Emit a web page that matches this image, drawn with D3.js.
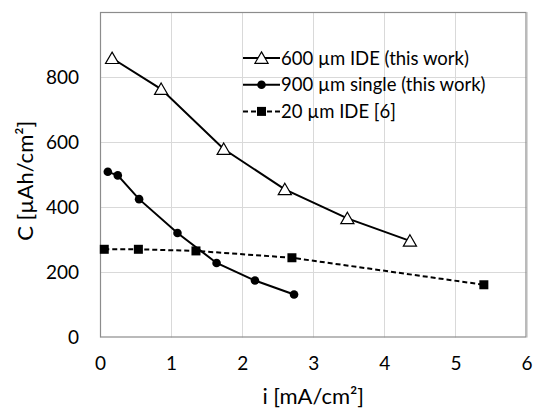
<!DOCTYPE html>
<html>
<head>
<meta charset="utf-8">
<script src="https://cdn.jsdelivr.net/npm/d3@7"></script>
<style>
  html, body { margin: 0; padding: 0; background: #fff; }
  svg { display: block; font-family: Lato, "Noto Sans", sans-serif; }
</style>
</head>
<body>
<svg id="chart" width="533" height="410"></svg>
<script>
// Capacity vs. current density for three electrode designs
const ide600X = [0.17, 0.86, 1.74, 2.60, 3.48, 4.36];
const ide600Y = [858, 763, 579, 455, 366, 297];
const single900X = [0.11, 0.25, 0.55, 1.09, 1.64, 2.18, 2.73];
const single900Y = [509, 498, 425, 321, 229, 175, 132];
const ide20X = [0.06, 0.54, 1.35, 2.70, 5.40];
const ide20Y = [271, 271, 266, 245, 162];

const seriesNames = ["600 µm IDE (this work)", "900 µm single (this work)", "20 µm IDE [6]"];
const xTicks = [0, 1, 2, 3, 4, 5, 6];
const yTicks = [0, 200, 400, 600, 800];

const svg = d3.select("#chart");
const m = { left: 100, top: 12, right: 526.5, bottom: 337.5 };

const x = d3.scaleLinear().domain([0, 6]).range([m.left, m.right]);
const y = d3.scaleLinear().domain([0, 1000]).range([m.bottom, m.top]);

// grid
const grid = svg.append("g").attr("stroke", "#d9d9d9").attr("stroke-width", 1);
xTicks.forEach(t => grid.append("line")
  .attr("x1", Math.round(x(t)) + 0.5).attr("x2", Math.round(x(t)) + 0.5)
  .attr("y1", m.top).attr("y2", m.bottom));
[200, 400, 600, 800].forEach(t => grid.append("line")
  .attr("x1", m.left).attr("x2", m.right)
  .attr("y1", Math.round(y(t)) + 0.5).attr("y2", Math.round(y(t)) + 0.5));

// frame
svg.append("rect")
  .attr("x", m.left + 0.5).attr("y", m.top + 0.5)
  .attr("width", m.right - m.left - 1).attr("height", m.bottom - m.top - 1)
  .attr("fill", "none").attr("stroke", "#8c8c8c").attr("stroke-width", 1.2);

// axes
const xAxis = d3.axisBottom(x).tickValues(xTicks).tickFormat(d3.format("d"))
  .tickSize(0).tickPadding(19);
const gx = svg.append("g").attr("transform", `translate(0,${m.bottom})`).call(xAxis);
gx.select(".domain").remove();
gx.selectAll("text").attr("font-size", 19).attr("fill", "#000").attr("font-family", "Lato, sans-serif");

const yAxis = d3.axisLeft(y).tickValues(yTicks).tickFormat(d3.format("d"))
  .tickSize(0).tickPadding(21);
const gy = svg.append("g").attr("transform", `translate(${m.left},0)`).call(yAxis);
gy.select(".domain").remove();
gy.selectAll("text").attr("font-size", 19).attr("fill", "#000").attr("font-family", "Lato, sans-serif");

// axis titles
svg.append("text")
  .attr("x", (m.left + m.right) / 2).attr("y", 404)
  .attr("text-anchor", "middle").attr("font-size", 22)
  .text("i [mA/cm²]");
svg.append("text")
  .attr("transform", `translate(33,${(m.top + m.bottom) / 2 + 6}) rotate(-90)`)
  .attr("text-anchor", "middle").attr("font-size", 22)
  .text("C [µAh/cm²]");

const line = d3.line().x(d => x(d[0])).y(d => y(d[1]));
const zip = (a, b) => a.map((v, i) => [v, b[i]]);

const triPath = d3.symbol().type(d3.symbolTriangle).size(75)();
function drawTriangle(g, cx, cy) {
  g.append("path").attr("d", triPath)
    .attr("transform", `translate(${cx},${cy + 1.5})`)
    .attr("fill", "#fff").attr("stroke", "#000").attr("stroke-width", 1.2);
}
function drawCircle(g, cx, cy) {
  g.append("circle").attr("cx", cx).attr("cy", cy).attr("r", 4.3).attr("fill", "#000");
}
function drawSquare(g, cx, cy) {
  g.append("rect").attr("x", cx - 4.5).attr("y", cy - 4.5)
    .attr("width", 9).attr("height", 9).attr("fill", "#000");
}

const series = [
  { data: zip(ide20X, ide20Y), dash: "5,3", mark: drawSquare },
  { data: zip(single900X, single900Y), dash: null, mark: drawCircle },
  { data: zip(ide600X, ide600Y), dash: null, mark: drawTriangle }
];

series.forEach(s => {
  const g = svg.append("g");
  g.append("path").attr("d", line(s.data))
    .attr("fill", "none").attr("stroke", "#000").attr("stroke-width", 2)
    .attr("stroke-dasharray", s.dash);
  s.data.forEach(d => s.mark(g, x(d[0]), y(d[1])));
});

// legend
const legendRows = [
  { name: seriesNames[0], dash: null, mark: drawTriangle },
  { name: seriesNames[1], dash: null, mark: drawCircle },
  { name: seriesNames[2], dash: "5,3", mark: drawSquare }
];
const lg = svg.append("g");
legendRows.forEach((r, i) => {
  const cy = 58 + i * 26.7;
  lg.append("line").attr("x1", 243).attr("x2", 280).attr("y1", cy).attr("y2", cy)
    .attr("stroke", "#000").attr("stroke-width", 2).attr("stroke-dasharray", r.dash);
  r.mark(lg, 261.5, cy);
  lg.append("text").attr("x", 281).attr("y", cy + 6.5).attr("font-size", 18.5).text(r.name);
});
</script>
</body>
</html>
